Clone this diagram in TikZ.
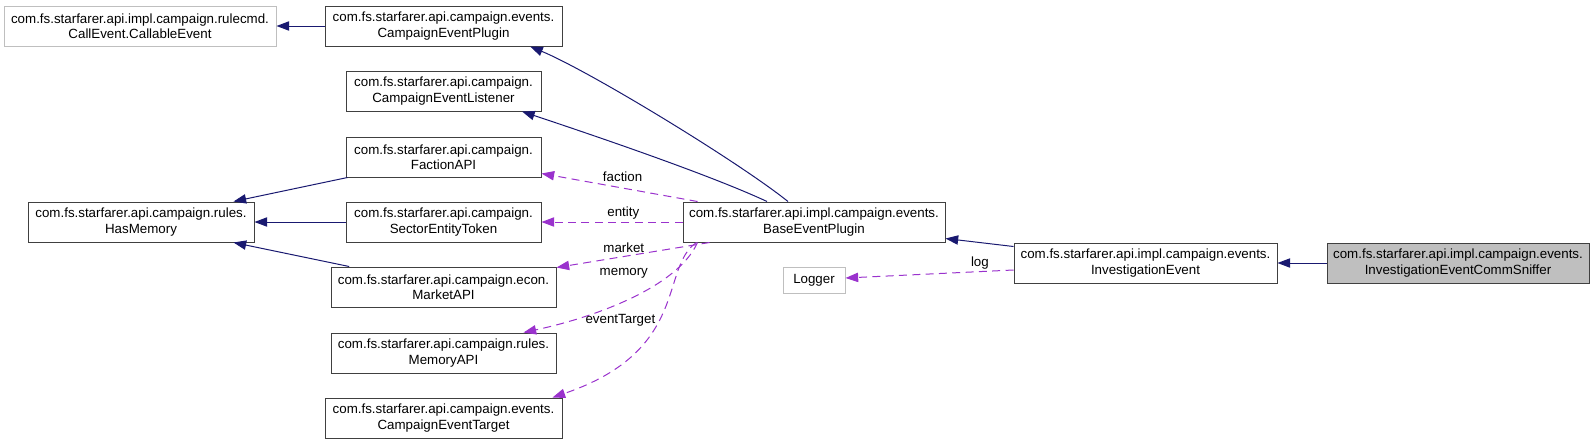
\documentclass[tikz,border=0pt]{standalone}
\usepackage{xcolor}
\usepackage{fontspec}
\setmainfont{Liberation Sans}
\usepackage{tikz}
\usetikzlibrary{arrows.meta,calc,positioning}
\definecolor{inheritblue}{RGB}{25,25,112}
\definecolor{usagepurple}{RGB}{154,50,205}
\definecolor{boxgray}{RGB}{191,191,191}
\tikzset{
  cls/.style={
    rectangle,
    draw=black!75,
    fill=white,
    line width=0.75pt,
    minimum height=30pt,
    inner sep=1pt,
    align=center,
    font=\fontsize{10}{11.6}\selectfont
  }
}
\tikzset{
  ext cls/.style={
    cls,
    draw=boxgray
  }
}
\tikzset{
  focus cls/.style={
    cls,
    fill=boxgray
  }
}
\tikzset{
  inherit/.style={
    -{Triangle[length=9.5pt,width=7pt]},
    draw=inheritblue,
    line width=0.75pt
  }
}
\tikzset{
  usage/.style={
    -{Triangle[length=9.5pt,width=7pt]},
    draw=usagepurple,
    dash pattern=on 6pt off 4pt,
    line width=0.75pt
  }
}
\tikzset{
  edge label/.style={
    inner sep=1.5pt,
    font=\fontsize{10}{12}\selectfont
  }
}

\begin{document}
\begin{tikzpicture}[x=0.75pt,y=-0.75pt]

    \useasboundingbox (0,0) rectangle (1595,444);

    % ------------------------------------------------------------
    % Nodes
    % ------------------------------------------------------------

    \node[ext cls,minimum width=204pt] (callable) at (140,26)
    {com.fs.starfarer.api.impl.campaign.rulecmd.\\CallEvent.CallableEvent};

    \node[cls,minimum width=177.75pt] (plugin) at (443.5,26)
    {com.fs.starfarer.api.campaign.events.\\CampaignEventPlugin};

    \node[cls,minimum width=146.25pt] (listener) at (443.5,91)
    {com.fs.starfarer.api.campaign.\\CampaignEventListener};

    \node[cls,minimum width=146.25pt] (faction) at (443.5,157)
    {com.fs.starfarer.api.campaign.\\FactionAPI};

    \node[cls,minimum width=169.5pt] (hasmem) at (141,222)
    {com.fs.starfarer.api.campaign.rules.\\HasMemory};

    \node[cls,minimum width=146.25pt] (sector) at (443.5,222)
    {com.fs.starfarer.api.campaign.\\SectorEntityToken};

    \node[cls,minimum width=168.75pt] (market) at (443.5,287)
    {com.fs.starfarer.api.campaign.econ.\\MarketAPI};

    \node[cls,minimum width=168.75pt] (memapi) at (443.5,353)
    {com.fs.starfarer.api.campaign.rules.\\MemoryAPI};

    \node[cls,minimum width=177.75pt] (target) at (443.5,418)
    {com.fs.starfarer.api.campaign.events.\\CampaignEventTarget};

    \node[cls,minimum width=196.5pt] (base) at (814,222)
    {com.fs.starfarer.api.impl.campaign.events.\\BaseEventPlugin};

    \node[ext cls,minimum width=46.5pt,minimum height=19.5pt] (logger) at (814,280)
    {Logger};

    \node[cls,minimum width=197.25pt] (invest) at (1145.5,263)
    {com.fs.starfarer.api.impl.campaign.events.\\InvestigationEvent};

    \node[focus cls,minimum width=196.5pt] (sniffer) at (1458,263)
    {com.fs.starfarer.api.impl.campaign.events.\\InvestigationEventCommSniffer};

    % ------------------------------------------------------------
    % Inheritance
    % ------------------------------------------------------------

    \draw[inherit] (plugin) -- (callable);

    \draw[inherit]
      ([xshift=-19.5pt]base.north)
      .. controls +(-50,-40) and +(60,25) ..
      ([xshift=65pt]plugin.south);

    \draw[inherit]
      ([xshift=-35.25pt]base.north)
      .. controls +(-60,-28) and +(60,20) ..
      ([xshift=58.9pt]listener.south);

    \draw[inherit]
      ([xshift=1.5pt]faction.south west)
      --
      ([xshift=-15.75pt]hasmem.north east);

    \draw[inherit] (sector) -- (hasmem);

    \draw[inherit]
      ([xshift=14pt]market.north west)
      --
      ([xshift=-15.75pt]hasmem.south east);

    \draw[inherit]
      ([yshift=-3pt]invest.north west)
      --
      ([yshift=3pt]base.south east);

    \draw[inherit] (sniffer) -- (invest);

    % ------------------------------------------------------------
    % Usage
    % ------------------------------------------------------------

    \draw[usage]
      ([xshift=11.25pt]base.north west)
      --
      node[edge label,above=3pt,pos=0.48] {faction}
      ([yshift=3pt]faction.south east);

    \draw[usage]
      (base)
      --
      node[edge label,above,pos=0.42] {entity}
      (sector);

    \draw[usage]
      ([xshift=20.25pt]base.south west)
      --
      node[edge label,above=1pt,pos=0.56] {market}
      ([yshift=-0.75pt]market.north east);

    \draw[usage]
      ([xshift=11.25pt]base.south west)
      .. controls +(-20,45) and +(70,-15) ..
      node[edge label,left=16pt,pos=0.25] {memory}
      ([xshift=-24.75pt]memapi.north east);

    \draw[usage]
      ([xshift=10.5pt]base.south west)
      .. controls +(-37,25) and +(138,-47) ..
      node[edge label,left,pos=0.55] {eventTarget}
      ([xshift=-7.5pt]target.north east);

    \draw[usage]
      ([yshift=-5.25pt]invest.west)
      --
      node[edge label,above,pos=0.2] {log}
      ([yshift=1.5pt]logger.east);

\end{tikzpicture}
\end{document}
